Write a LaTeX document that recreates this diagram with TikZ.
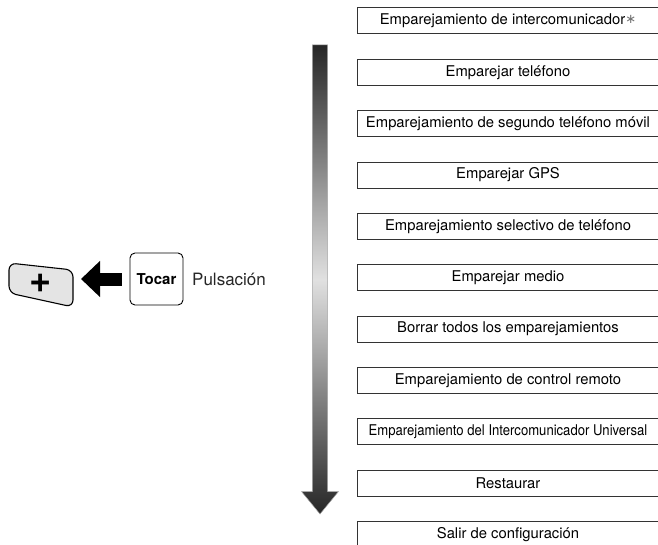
\documentclass[tikz,border=0pt]{standalone}
\usepackage{fontspec}
\setmainfont{TeX Gyre Heros}
\newfontfamily\symfont{DejaVu Sans}
\usetikzlibrary{arrows.meta}
\definecolor{btnfill}{HTML}{E4E4E4}
\definecolor{boxline}{HTML}{333333}
\tikzset{
  menubox/.style={draw=boxline, line width=1pt, minimum width=302pt, minimum height=26pt,
    inner sep=0pt, font=\fontsize{14.8}{16}\selectfont, anchor=center},
  tocarbox/.style={draw=black, line width=0.9pt, rounded corners=5pt, minimum width=53pt,
    minimum height=52pt, inner sep=0pt, font=\fontsize{15}{17}\selectfont\bfseries},
  blockarrow/.style={line width=13pt, -{Triangle[length=19pt,width=35pt]}, draw=black},
}
\begin{document}
\begin{tikzpicture}[x=1pt,y=-1pt]
\useasboundingbox (0,0) rectangle (658,545);
% gradient arrow
\shade[top color=black!85, bottom color=black!85, middle color=black!12, draw=black!35, line width=0.5pt]
  (312.3,45) -- (327.7,45) -- (327.7,491.5) -- (338.5,491.5) -- (320,514) -- (301.5,491.5) -- (312.3,491.5) -- cycle;
% menu boxes
\foreach \i/\t in {0/{Emparejamiento de intercomunicador{\symfont\fontsize{13}{13}\selectfont\color{black!55}\raisebox{1pt}{∗}}},
  1/Emparejar teléfono,
  2/Emparejamiento de segundo teléfono móvil,
  3/Emparejar GPS,
  4/Emparejamiento selectivo de teléfono,
  5/Emparejar medio,
  6/Borrar todos los emparejamientos,
  7/Emparejamiento de control remoto,
  8/{\scalebox{0.885}[1]{Emparejamiento del Intercomunicador Universal}},
  9/Restaurar,
  10/Salir de configuración}{
  \node[menubox] (m\i) at (508,21+51.35*\i) {\t};
}
% plus button
\filldraw[fill=btnfill, draw=black, line width=1.1pt, rounded corners=7pt]
  (9,263) -- (73,270) -- (73,307) -- (9,293) -- cycle;
\node[font=\fontsize{38}{38}\selectfont\bfseries, inner sep=0pt] (plus) at (41,283) {+};
\coordinate (btnedge) at (81,279);
% tocar
\node[tocarbox] (tocar) at (156.5,279) {Tocar};
\node[anchor=west, inner sep=0pt, font=\fontsize{17}{19}\selectfont, text=black!85] (puls) at (192,279) {Pulsación};
\draw[blockarrow] ([xshift=-8pt]tocar.west) -- (btnedge);
\end{tikzpicture}
\end{document}
